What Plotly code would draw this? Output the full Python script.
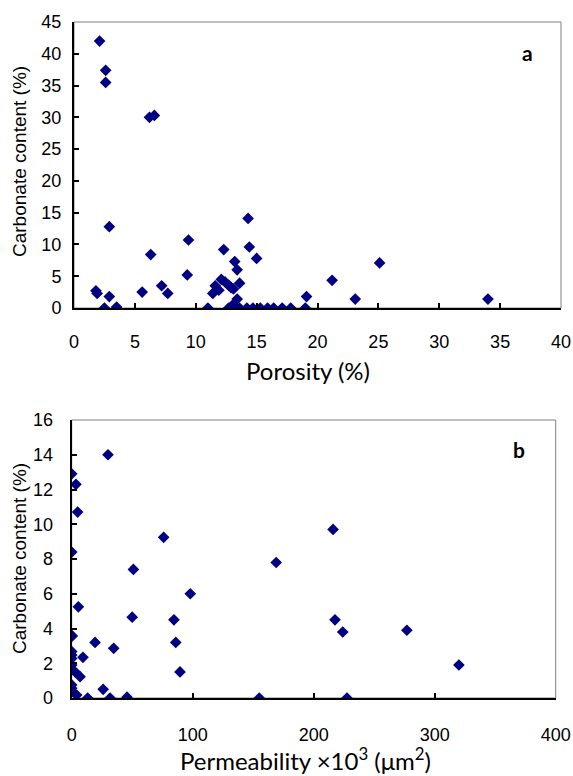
import plotly.graph_objects as go

# Panel a: porosity vs carbonate content
porosity_a = [2.1, 2.6, 2.6, 6.2, 6.6, 1.8, 1.9, 2.9, 2.9, 2.5, 3.5, 5.6, 6.3, 7.2, 7.7,
              9.4, 9.3, 11.0, 11.4, 11.6, 11.9, 12.1, 12.3, 12.4, 12.7, 12.9, 13.1, 12.7,
              13.0, 13.2, 13.4, 13.6, 13.4, 12.9, 13.3, 14.3, 14.4, 15.0, 13.6, 14.2, 14.7,
              15.3, 15.9, 16.4, 17.1, 17.8, 19.0, 19.1, 21.2, 23.1, 25.1, 34.0]
carbonate_a = [42.0, 37.4, 35.5, 30.0, 30.3, 2.7, 2.3, 12.8, 1.8, 0.0, 0.15, 2.5, 8.4, 3.5, 2.3,
               10.7, 5.2, 0.0, 2.3, 3.5, 2.8, 4.5, 9.2, 4.1, 3.6, 3.2, 3.0, 0.0,
               0.4, 7.3, 6.0, 3.9, 1.4, 0.0, 0.0, 14.1, 9.6, 7.8, 0.0, 0.0, 0.0,
               0.0, 0.0, 0.0, 0.0, 0.0, 0.0, 1.8, 4.35, 1.4, 7.1, 1.4]

# Panel b: permeability vs carbonate content
permeability_b = [0.0, 3.5, 4.9, 30.0, 0.0, 76.0, 51.0, 169.0, 216.0, 98.0, 5.5, 50.0, 84.5,
                  86.0, 89.5, 0.5, 19.3, 34.7, 9.3, 0.0, 0.0, 0.0, 0.0, 2.7, 6.9, 0.0, 0.0,
                  0.0, 4.1, 26.0, 13.2, 31.7, 45.7, 155.0, 217.6, 224.0, 277.0, 320.0, 227.5]
carbonate_b = [12.9, 12.3, 10.7, 14.0, 8.4, 9.25, 7.4, 7.8, 9.7, 6.0, 5.25, 4.65, 4.5,
               3.2, 1.5, 3.57, 3.2, 2.86, 2.34, 2.67, 2.47, 2.28, 1.9, 1.51, 1.23, 0.75, 0.56,
               0.36, 0.17, 0.5, 0.0, 0.0, 0.05, 0.0, 4.5, 3.8, 3.9, 1.9, 0.0]

xa_ticks = [0, 5, 10, 15, 20, 25, 30, 35, 40]
ya_ticks = [0, 5, 10, 15, 20, 25, 30, 35, 40, 45]
xb_ticks = [0, 100, 200, 300, 400]
yb_ticks = [0, 2, 4, 6, 8, 10, 12, 14, 16]

W, H = 573, 776
MARK = dict(symbol="diamond", size=9, color="#000080", line=dict(width=0))
TICKFONT = dict(family="Liberation Sans, Arial", size=18, color="black")

fig = go.Figure()
fig.add_trace(go.Scatter(x=porosity_a, y=carbonate_a, mode="markers", marker=MARK,
                         xaxis="x", yaxis="y", showlegend=False))
fig.add_trace(go.Scatter(x=permeability_b, y=carbonate_b, mode="markers", marker=MARK,
                         xaxis="x2", yaxis="y2", showlegend=False))

def ax(domain, rng, ticks, anchor, standoff):
    return dict(domain=domain, range=rng, tickvals=ticks, ticktext=[str(t) for t in ticks],
                anchor=anchor, showgrid=False, zeroline=False, showline=True,
                linecolor="black", linewidth=2, ticks="inside", ticklen=5, tickwidth=1.5,
                tickcolor="black", tickfont=TICKFONT, ticklabelstandoff=standoff,
                automargin=False, fixedrange=True)

fig.update_layout(
    width=W, height=H, margin=dict(l=0, r=0, t=0, b=0),
    paper_bgcolor="white", plot_bgcolor="white",
    xaxis=ax([74 / W, 561 / W], [0, 40], xa_ticks, "y", 16),
    yaxis=ax([1 - 308 / H, 1 - 22 / H], [0, 45], ya_ticks, "x", 7),
    xaxis2=ax([71.7 / W, 555.7 / W], [0, 400], xb_ticks, "y2", 19),
    yaxis2=ax([1 - 698 / H, 1 - 420 / H], [0, 16], yb_ticks, "x2", 13),
)

# gray plot-area frames
for xr, yr in (("x", "y"), ("x2", "y2")):
    fig.add_shape(type="rect", xref=f"{xr} domain", yref=f"{yr} domain", x0=0, x1=1, y0=0, y1=1,
                  line=dict(color="#808080", width=1), layer="below")

TITLEFONT = dict(family="Liberation Sans, Arial", size=19, color="black")
XTFONT = dict(family="Lato, Open Sans", size=24, color="black")

ann = [
    dict(text="Carbonate content (%)", x=19 / W, y=1 - 162 / H, textangle=-90, font=TITLEFONT),
    dict(text="Porosity (%)", x=308 / W, y=1 - 370 / H, font=XTFONT),
    dict(text="Carbonate content (%)", x=19 / W, y=1 - 559 / H, textangle=-90, font=TITLEFONT),
    dict(text="Permeability ×10<sup>3</sup> (μm<sup>2</sup>)", x=305 / W, y=1 - 759 / H, font=XTFONT),
    dict(text="<b>a</b>", x=527 / W, y=1 - 53 / H, font=dict(family="Lato", size=21, color="black")),
    dict(text="<b>b</b>", x=519 / W, y=1 - 449 / H, font=dict(family="Lato", size=21, color="black")),
]
for a in ann:
    fig.add_annotation(xref="paper", yref="paper", showarrow=False, xanchor="center",
                       yanchor="middle", **a)

fig.write_html("out.html", config={"displayModeBar": False},
               post_script="document.body.style.margin='0';")
